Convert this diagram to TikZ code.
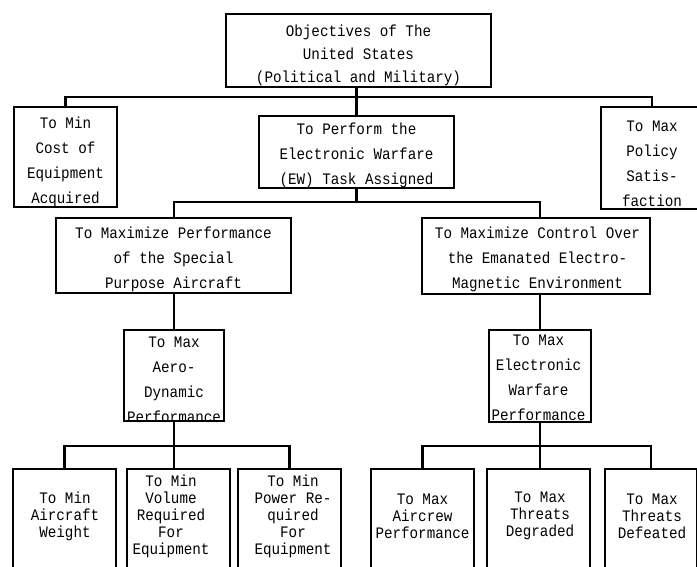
\documentclass[tikz,border=0pt]{standalone}
\usepackage{fontspec}
\setmonofont[FakeStretch=0.89]{Liberation Mono}
\begin{document}
\begin{tikzpicture}[x=1pt,y=-1pt,
  frame/.style={draw, line width=2.8pt, inner sep=0pt},
  words/.style={inner sep=0pt, align=center,
    font=\ttfamily\fontsize{16}{25}\selectfont},
  tightwords/.style={words, font=\ttfamily\fontsize{16}{17}\selectfont},
  link/.style={line width=2.6pt}]
\useasboundingbox (0,0) rectangle (697,567);
\clip (0,0) rectangle (697,567);

% ---- frames ----
\node[frame, minimum width=265pt, minimum height=73pt]  (top)    at (358.5,50.5) {};
\node[frame, minimum width=103pt, minimum height=100pt] (cost)   at (65.5,157) {};
\node[frame, minimum width=195pt, minimum height=72pt]  (task)   at (356.5,152) {};
\node[frame, minimum width=102pt, minimum height=102pt] (policy) at (652,158) {};
\node[frame, minimum width=235pt, minimum height=75pt]  (perf)   at (173.5,255.5) {};
\node[frame, minimum width=228pt, minimum height=76pt]  (ctrl)   at (536,256) {};
\node[frame, minimum width=100pt, minimum height=91pt]  (aero)   at (174,375.5) {};
\node[frame, minimum width=102pt, minimum height=92pt]  (ew)     at (540,376) {};
\node[frame, minimum width=103pt, minimum height=121pt] (weight) at (64.5,529.5) {};
\node[frame, minimum width=103pt, minimum height=121pt] (volume) at (178.5,529.5) {};
\node[frame, minimum width=103pt, minimum height=121pt] (power)  at (289.5,529.5) {};
\node[frame, minimum width=103pt, minimum height=121pt] (crew)   at (422.5,529.5) {};
\node[frame, minimum width=103pt, minimum height=121pt] (degr)   at (538.5,529.5) {};
\node[frame, minimum width=92pt,  minimum height=121pt] (defe)   at (651,529.5) {};

% ---- texts ----
\node[words, font=\ttfamily\fontsize{16}{23}\selectfont] (topT) at (358.5,55.5)
  {Objectives of The\\United States\\(Political and Military)};
\node[words] (costT) at (65.5,161.5) {To Min\\Cost of\\Equipment\\Acquired};
\node[words] (taskT) at (356.5,155)
  {To Perform the\\Electronic Warfare\\(EW) Task Assigned};
\node[words] (policyT) at (652,163.5) {To Max\\Policy\\Satis-\\faction};
\node[words] (perfT) at (173.5,259.5)
  {To Maximize Performance\\of the Special\\Purpose Aircraft};
\node[words] (ctrlT) at (537.5,259.5)
  {To Maximize Control Over\\the Emanated Electro-\\Magnetic Environment};
\node[words] (aeroT) at (174,379.5) {To Max\\Aero-\\Dynamic\\Performance};
\node[words] (ewT) at (538.5,378) {To Max\\Electronic\\Warfare\\Performance};
\node[tightwords] (weightT) at (65,516) {To Min\\Aircraft\\Weight};
\node[tightwords] (volumeT) at (171,516) {To Min\\Volume\\Required\\For\\Equipment};
\node[tightwords] (powerT) at (293,516) {To Min\\Power Re-\\quired\\For\\Equipment};
\node[tightwords] (crewT) at (422.5,516) {To Max\\Aircrew\\Performance};
\node[tightwords] (degrT) at (540,516) {To Max\\Threats\\Degraded};
\node[tightwords] (defeT) at (652,516) {To Max\\Threats\\Defeated};

% ---- junctions ----
\coordinate (j1) at (356.5,97);
\coordinate (j2) at (356.5,202);
\coordinate (j3) at (174,446);
\coordinate (j4) at (540,446);

% ---- connectors ----
\draw[link] (task.north |- top.south) -- (task.north);
\draw[link] (cost.north) |- (j1) -| (policy.north);

\draw[link] (task.south) -- (j2);
\draw[link] (aero.north |- perf.north) |- (j2) -| (ew.north |- ctrl.north);

\draw[link] (aero.north |- perf.south) -- (aero.north);
\draw[link] (ew.north |- ctrl.south) -- (ew.north);

\draw[link] (aero.south) -- (aero.south |- volume.north);
\draw[link] (weight.north) |- (j3) -| (power.north);

\draw[link] (ew.south) -- (ew.south |- degr.north);
\draw[link] (crew.north) |- (j4) -| (defe.north);
\end{tikzpicture}
\end{document}
